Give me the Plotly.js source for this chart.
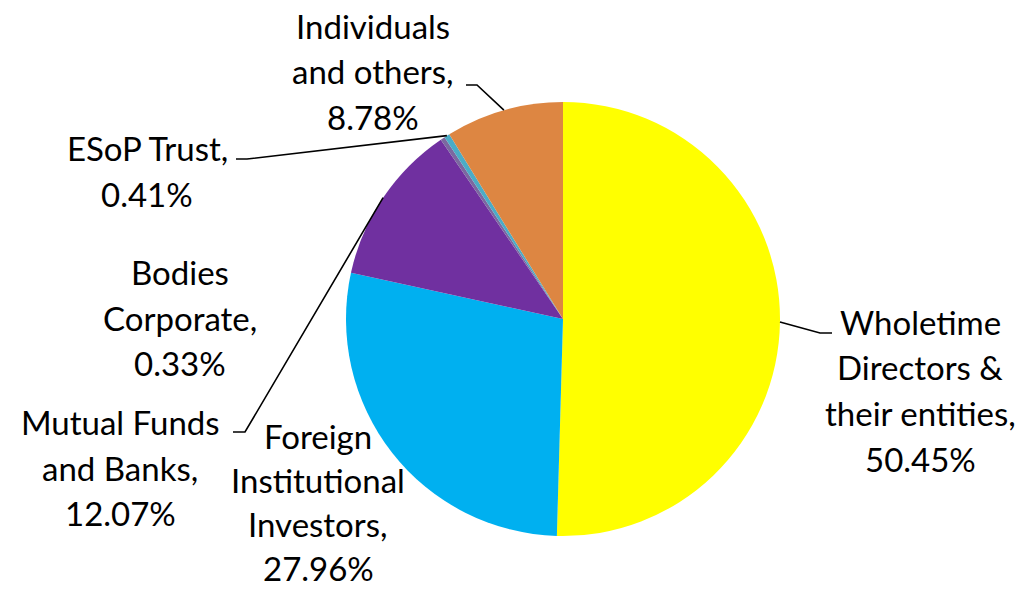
<!DOCTYPE html>
<html>
<head>
<meta charset="utf-8">
<script src="https://cdn.plot.ly/plotly-3.0.1.min.js"></script>
<style>html,body{margin:0;padding:0;background:#fff;}#chart{width:1025px;height:592px;}</style>
</head>
<body>
<div id="chart"></div>
<script>
// Data
const categories = ["Wholetime Directors & their entities", "Foreign Institutional Investors", "Mutual Funds and Banks", "Bodies Corporate", "ESoP Trust", "Individuals and others"];
const shares = [50.45, 27.96, 12.07, 0.33, 0.41, 8.78];
const labelLines = [
  ["Wholetime", "Directors &", "their entities,", "50.45%"],
  ["Foreign", "Institutional", "Investors,", "27.96%"],
  ["Mutual Funds", "and Banks,", "12.07%"],
  ["Bodies", "Corporate,", "0.33%"],
  ["ESoP Trust,", "0.41%"],
  ["Individuals", "and others,", "8.78%"]
];
const colors = ["#FFFF00", "#00B0F0", "#7030A0", "#7B68A0", "#4BACC6", "#DD8642"];

// Layout geometry (pixels)
const W = 1025, H = 592;
const cx = 563, cy = 319, R = 217;
// label block: center x, first line y, line gap
const labelPos = [
  [920, 322, 45.5], [318, 436, 44], [120, 422, 45.5], [180, 272, 45.5], [147, 148, 45.5], [373, 26, 45.5]
];
// leader line elbows: [elbowX, elbowY, endX] or null
const leaders = [
  [820, 333, 832], null, [245, 432, 233], null, [247, 159, 236], [477, 85, 466]
];

const px = x => x / W;
const py = y => 1 - y / H;

// slice mid-angles from data
const total = shares.reduce((a, b) => a + b, 0);
let cum = 0;
const mids = shares.map(v => { const m = (cum + v / 2) / total; cum += v; return m * 2 * Math.PI; });

const annotations = [];
labelLines.forEach((lines, i) => {
  lines.forEach((t, j) => {
    annotations.push({
      text: t, x: px(labelPos[i][0]), y: py(labelPos[i][1] + j * labelPos[i][2]),
      xref: 'paper', yref: 'paper', xanchor: 'center', yanchor: 'middle',
      showarrow: false, font: {family: 'Lato, "Open Sans", sans-serif', size: 33, color: '#000'}
    });
  });
});

const shapes = [];
leaders.forEach((L, i) => {
  if (!L) return;
  const ax = cx + R * Math.sin(mids[i]);
  const ay = cy - R * Math.cos(mids[i]);
  const pts = [[ax, ay], [L[0], L[1]], [L[2], L[1]]];
  const path = pts.map((p, k) => (k ? 'L' : 'M') + px(p[0]).toFixed(5) + ',' + py(p[1]).toFixed(5)).join(' ');
  shapes.push({type: 'path', xref: 'paper', yref: 'paper', path: path, line: {color: '#000', width: 1.6}});
});

const trace = {
  type: 'pie', values: shares, labels: categories, sort: false, direction: 'clockwise', rotation: 0,
  marker: {colors: colors, line: {width: 0}}, textinfo: 'none', hoverinfo: 'label+percent',
  domain: {x: [(cx - R) / W, (cx + R) / W], y: [1 - (cy + R) / H, 1 - (cy - R) / H]},
  showlegend: false
};

Plotly.newPlot('chart', [trace], {
  width: W, height: H, margin: {l: 0, r: 0, t: 0, b: 0},
  paper_bgcolor: '#fff', plot_bgcolor: '#fff', showlegend: false,
  annotations: annotations, shapes: shapes
}, {displayModeBar: false, staticPlot: true});
</script>
</body>
</html>
